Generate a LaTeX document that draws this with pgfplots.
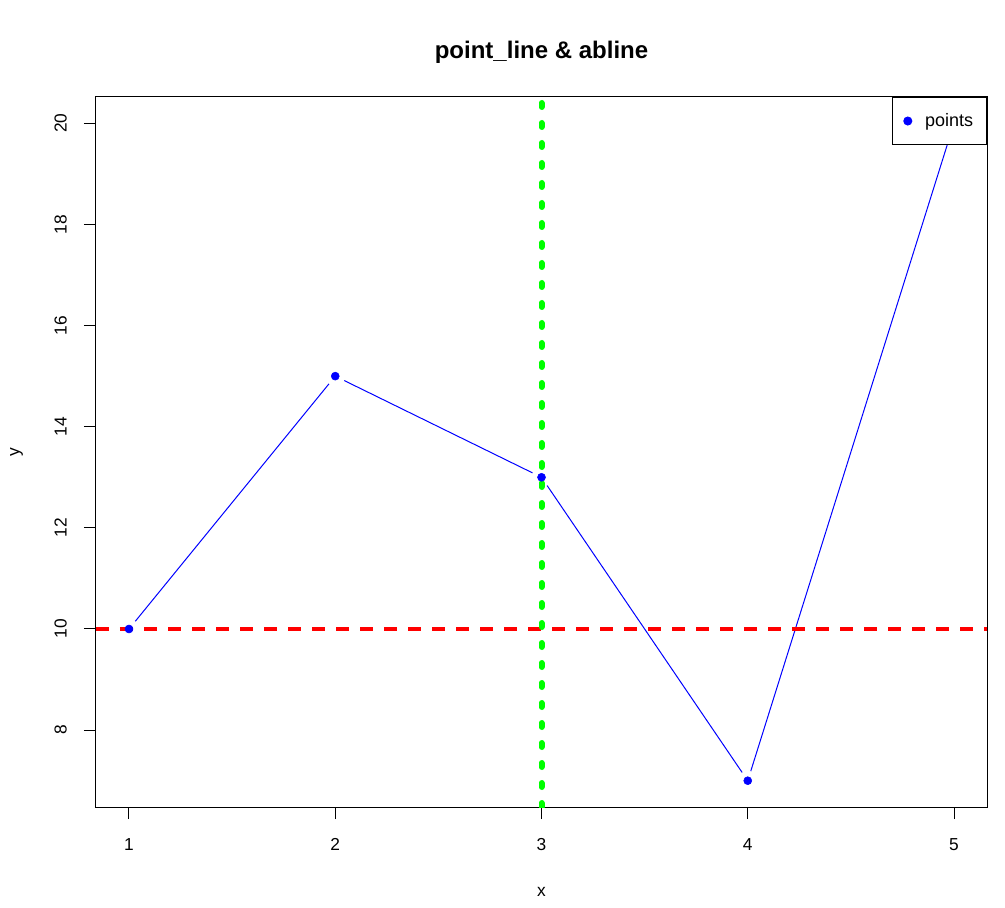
\documentclass[border=0pt]{standalone}
\usepackage{fontspec}
\setmainfont{Liberation Sans}
\usepackage{pgfplots}
\pgfplotsset{compat=1.18}
\begin{document}
\begin{tikzpicture}[font=\fontsize{13}{15.6}\selectfont]
\begin{axis}[
  at={(0,0)}, anchor=south west,
  scale only axis,
  width=668.25pt, height=532.5pt,
  xmin=0.84, xmax=5.16, ymin=6.48, ymax=20.52,
  xtick={1,2,3,4,5}, ytick={8,10,12,14,16,18,20},
  tick align=outside, xtick pos=bottom, ytick pos=left,
  major tick length=9pt,
  axis line style={line width=0.75pt},
  tick style={black, line width=0.75pt},
  /pgf/number format/assume math mode=true,
  xticklabel style={anchor=center, yshift=-19pt, font=\fontsize{13}{15.6}\selectfont},
  yticklabel style={anchor=center, xshift=-17.5pt, rotate=90, font=\fontsize{13}{15.6}\selectfont},
  title={point\_line \& abline},
  title style={at={(axis description cs:0.5,1)}, anchor=center, yshift=27.75pt, font=\bfseries\fontsize{18}{21}\selectfont},
  xlabel={x},
  xlabel style={at={([yshift=-63.75pt]axis description cs:0.5,0)}, anchor=center, font=\fontsize{13}{15.6}\selectfont},
  ylabel={y},
  ylabel style={at={([xshift=-59.6pt]axis description cs:0,0.5)}, anchor=center, font=\fontsize{13}{15.6}\selectfont},
  legend style={at={(axis description cs:1,1)}, anchor=north east, draw=black, fill=white, line width=0.75pt, inner xsep=8pt, inner ysep=10pt, font=\fontsize{13.5}{16}\selectfont},
  legend image code/.code={\fill[blue] (3pt,0pt) circle (3pt); \path[draw=none] (0pt,0pt) -- (14pt,0pt);},
  legend cell align=left,
  clip=true,
]
% blue connecting segments (type = "b", gaps around points)
\addplot[blue, line width=0.75pt, shorten <=7.5pt, shorten >=7.5pt, forget plot] coordinates {(1,10) (2,15)};
\addplot[blue, line width=0.75pt, shorten <=7.5pt, shorten >=7.5pt, forget plot] coordinates {(2,15) (3,13)};
\addplot[blue, line width=0.75pt, shorten <=7.5pt, shorten >=7.5pt, forget plot] coordinates {(3,13) (4,7)};
\addplot[blue, line width=0.75pt, shorten <=7.5pt, shorten >=7.5pt, forget plot] coordinates {(4,7) (5,20)};
% ablines
\addplot[red, line width=3pt, dash pattern=on 10pt off 8pt, forget plot] coordinates {(0.84,10) (5.16,10)};
\addplot[green, line width=4.5pt, line cap=round, dash pattern=on 3pt off 12pt, forget plot] coordinates {(3,6.48) (3,20.52)};
% points
\addplot[only marks, mark=*, mark size=3pt, blue, mark options={draw=blue, fill=blue}] coordinates {(1,10) (2,15) (3,13) (4,7) (5,20)};
\addlegendentry{points}
\end{axis}
\path[use as bounding box] (-72pt,-75pt) rectangle (681.75pt,605.25pt);
\end{tikzpicture}
\end{document}
